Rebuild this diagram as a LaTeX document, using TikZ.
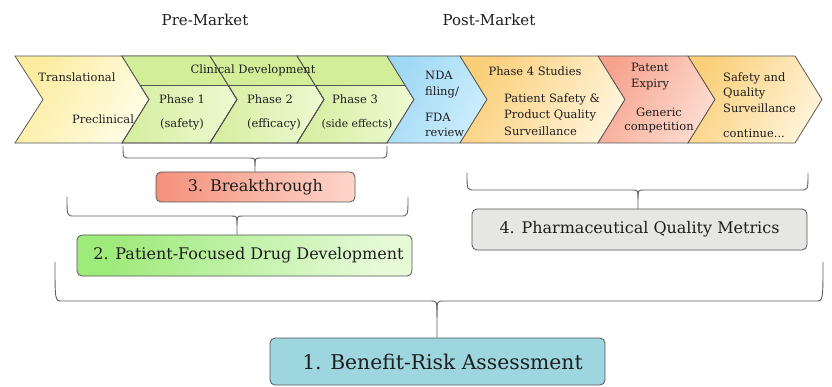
\documentclass[tikz,border=0pt]{standalone}
\usepackage{fontspec}
\setmainfont{DejaVu Serif}
\usepackage{tikz}
\usetikzlibrary{calc}

\definecolor{chevline}{HTML}{555555}
\definecolor{bracecol}{HTML}{5F5F5F}
\definecolor{txtcol}{HTML}{1E1E1E}
\definecolor{ylwA}{HTML}{FCEC9E}
\definecolor{ylwB}{HTML}{FFFDE6}
\definecolor{grnA}{HTML}{D5EE9E}
\definecolor{grnB}{HTML}{EEF9D2}
\definecolor{grnC}{HTML}{D2EE98}
\definecolor{bluA}{HTML}{9FD8F5}
\definecolor{bluB}{HTML}{CDEEFC}
\definecolor{orgA}{HTML}{FBCF7A}
\definecolor{orgB}{HTML}{FFF3D8}
\definecolor{salA}{HTML}{F6A38E}
\definecolor{salB}{HTML}{FDDCD0}
\definecolor{brkA}{HTML}{F4907A}
\definecolor{brkB}{HTML}{FDD6CC}
\definecolor{pfdA}{HTML}{9EEA7A}
\definecolor{pfdB}{HTML}{E6FAD8}
\definecolor{pqmcol}{HTML}{E6E6E4}
\definecolor{bracol}{HTML}{9DD6DF}

\begin{document}
\begin{tikzpicture}[x=1pt,y=-1pt]
      %styles for the stages and the boxes
      \tikzset{
      chev/.style={draw=chevline, line width=0.75pt, line join=miter},
      chevtxt/.style={font=\fontsize{11.5}{16}\selectfont, text=txtcol, inner sep=0pt},
      mkt/.style={font=\fontsize{15}{20}\selectfont, text=txtcol, inner sep=0pt},
      topicbox/.style={draw=chevline, rounded corners=5pt, line width=0.8pt, inner sep=0pt,
        font=\fontsize{16}{20}\selectfont, text=txtcol},
      brace/.style={draw=bracecol, line width=0.9pt},
      }
      \useasboundingbox (0,0) rectangle (832,387);

      %Pre / Post market
      \node[mkt] (pre) at (205,20) {Pre-Market};
      \node[mkt] (post) at (489,20) {Post-Market};

      %Stage 1 - preclinical
      \draw[chev, left color=ylwA, right color=ylwB, shading angle=60]
        (15,56) -- (122,56) -- (149,99.5) -- (122,143) -- (15,143) -- (43,99.5) -- cycle;
      \node[chevtxt] (trans) at (77,77) {Translational};
      \node[chevtxt] (precl) at (103,119) {Preclinical};

      %Stage 2 - clinical phases
      \foreach \xa/\xb in {122/210, 210/297, 297/387}
        \draw[chev, left color=grnA, right color=grnB]
          (\xa,56) -- (\xb,56) -- (\xb+27,99.5) -- (\xb,143) -- (\xa,143) -- (\xa+27,99.5) -- cycle;
      \fill[grnC] (122,56) -- (387,56) -- (405,85) -- (140,85) -- cycle;
      \foreach \xa/\xb in {122/210, 210/297, 297/387}
        \draw[chev] (\xa,56) -- (\xb,56) -- (\xb+27,99.5) -- (\xb,143) -- (\xa,143) -- (\xa+27,99.5) -- cycle;
      \draw[chev] (140,85) -- (405,85);
      \node[chevtxt] (clin) at (253,70) {Clinical Development};
      \node[chevtxt] (ph1) at (182,99) {Phase 1};
      \node[chevtxt] (ph1b) at (182,124) {(safety)};
      \node[chevtxt] (ph2) at (270,99) {Phase 2};
      \node[chevtxt] (ph2b) at (274,124) {(efficacy)};
      \node[chevtxt] (ph3) at (355,99) {Phase 3};
      \node[chevtxt, font=\fontsize{10.8}{14}\selectfont] (ph3b) at (357,124) {(side effects)};

      %Stage 3 - review and post market
      \draw[chev, left color=bluA, right color=bluB, shading angle=60]
        (387,56) -- (460,56) -- (487,99.5) -- (460,143) -- (387,143) -- (414,99.5) -- cycle;
      \draw[chev, left color=orgA, right color=orgB, shading angle=60]
        (460,56) -- (598,56) -- (625,99.5) -- (598,143) -- (460,143) -- (487,99.5) -- cycle;
      \draw[chev, left color=salA, right color=salB, shading angle=60]
        (598,56) -- (688,56) -- (715,99.5) -- (688,143) -- (598,143) -- (625,99.5) -- cycle;
      \draw[chev, left color=orgA, right color=orgB, shading angle=60]
        (688,56) -- (795,56) -- (822,99.5) -- (795,143) -- (688,143) -- (715,99.5) -- cycle;
      \node[chevtxt, anchor=west, align=left] (nda) at (425,85) {NDA\\filing/};
      \node[chevtxt, anchor=west, align=left, font=\fontsize{11.5}{15}\selectfont] (fda) at (425,124.5) {FDA\\review};
      \node[chevtxt] (ph4) at (535,71) {Phase 4 Studies};
      \node[chevtxt, anchor=west, align=left, font=\fontsize{11.5}{16.5}\selectfont] (psafe) at (504,114.5)
        {Patient Safety \&\\Product Quality\\Surveillance};
      \node[chevtxt, anchor=west, align=left] (patent) at (631,77) {Patent\\Expiry};
      \node[chevtxt, align=center, font=\fontsize{11.5}{14}\selectfont] (generic) at (659,120) {Generic\\competition};
      \node[chevtxt, anchor=west, align=left, font=\fontsize{11.5}{15.5}\selectfont] (sqs) at (723,92.5)
        {Safety and\\Quality\\Surveillance};
      \node[chevtxt, anchor=west] (cont) at (723,133) {continue...};

      %topic boxes
      \node[topicbox, left color=brkA, right color=brkB, minimum width=199pt, minimum height=30pt]
        (brk) at (255.5,187) {3. Breakthrough};
      \node[topicbox, left color=pfdA, right color=pfdB, shading angle=70, minimum width=335pt, minimum height=41pt]
        (pfd) at (244.5,255.5) {\hspace*{8pt}2. Patient-Focused Drug Development};
      \node[topicbox, fill=pqmcol, minimum width=335pt, minimum height=41pt]
        (pqm) at (639.5,229.5) {4. Pharmaceutical Quality Metrics};
      \node[topicbox, fill=bracol, minimum width=335pt, minimum height=47pt, font=\fontsize{20.3}{24}\selectfont]
        (bra) at (437.5,361.5) {\hspace*{10pt}1. Benefit-Risk Assessment};

      %braces
      \foreach \xl/\xr/\yt/\ym/\xc/\dp/\tgt in {123/387/146/158/255/8/brk, 67/408/197/216/237/9/pfd,
          467/808/173/190/638/9/pqm, 55/823/262/301/437/16/bra}{
        \draw[brace] (\xl,\yt) .. controls (\xl,\ym) .. (\xl+7,\ym) -- (\xc-6,\ym)
          .. controls (\xc,\ym) .. (\xc,\ym+\dp) -- (\xc,0 |- \tgt.north);
        \draw[brace] (\xr,\yt) .. controls (\xr,\ym) .. (\xr-7,\ym) -- (\xc+6,\ym)
          .. controls (\xc,\ym) .. (\xc,\ym+\dp);
      }
\end{tikzpicture}
\end{document}
